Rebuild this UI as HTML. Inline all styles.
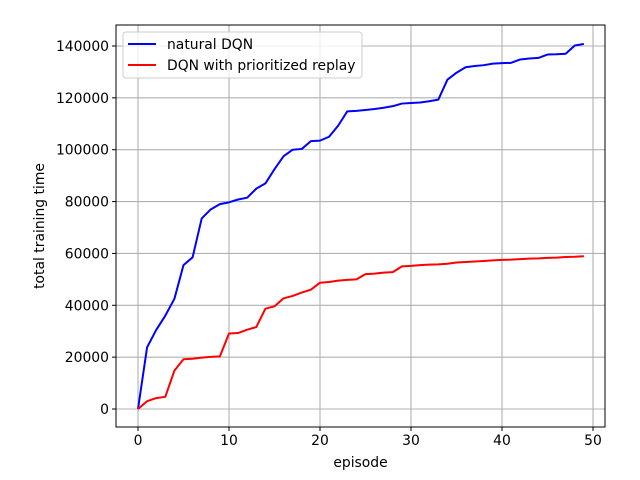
<!DOCTYPE html>
<html><head><meta charset="utf-8"><style>
body{margin:0;background:#fff}
svg{display:block;font-family:"DejaVu Sans","Liberation Sans",sans-serif}
</style></head><body>
<svg id="chart" width="640" height="480" viewBox="0 0 640 480" xmlns="http://www.w3.org/2000/svg">
<rect width="640" height="480" fill="#fff"/>
<g id="grid"></g>
<g id="ticks"></g>
<g id="series"></g>
<rect x="116" y="25" width="489" height="402" fill="none" stroke="#000" stroke-width="1"/>
<text x="360.5" y="467" font-size="13.9" text-anchor="middle">episode</text>
<text transform="translate(44,226) rotate(-90)" font-size="13.9" text-anchor="middle">total training time</text>
<g>
<rect x="123" y="32" width="239" height="46" rx="3" fill="#fff" fill-opacity="0.8" stroke="#ccc"/>
<line x1="128" y1="44" x2="156" y2="44" stroke="#0000ff" stroke-width="2"/>
<text x="167" y="49" font-size="13.9">natural DQN</text>
<line x1="128" y1="65" x2="156" y2="65" stroke="#ff0000" stroke-width="2"/>
<text x="167" y="70" font-size="13.9">DQN with prioritized replay</text>
</g>
</svg>
<script>
const xTicks=[0,10,20,30,40,50];
const yTicks=[0,20000,40000,60000,80000,100000,120000,140000];
const naturalDQN=[0,23800,30500,36000,42500,55500,58500,73500,77000,79000,79700,80800,81500,85000,87000,92500,97500,100000,100300,103300,103500,105000,109300,114800,115000,115300,115700,116200,116800,117800,118000,118200,118700,119300,127000,129700,131800,132300,132600,133200,133400,133500,134800,135200,135400,136700,136800,137000,140200,140800];
const prioritizedDQN=[0,3000,4200,4700,14800,19200,19400,19800,20100,20300,29100,29300,30600,31600,38700,39600,42700,43600,44900,46000,48700,49000,49500,49800,50000,52000,52200,52600,52800,55000,55200,55500,55700,55800,56000,56500,56700,56900,57100,57300,57500,57600,57800,58000,58100,58300,58400,58600,58700,58900];
const NS="http://www.w3.org/2000/svg";
const X=v=>138+v*(593-138)/50;
const Y=v=>409-v*(409-46)/140000;
function mk(t,a,p){const e=document.createElementNS(NS,t);for(const k in a)e.setAttribute(k,a[k]);p.appendChild(e);return e;}
const grid=document.getElementById('grid'),ticks=document.getElementById('ticks'),series=document.getElementById('series');
xTicks.forEach(v=>{
 const g=mk('line',{x1:X(v),x2:X(v),y1:25,y2:427,stroke:'#b0b0b0','stroke-width':1.1},grid);
 
 
 mk('line',{x1:X(v),x2:X(v),y1:427,y2:431,stroke:'#000'},ticks);
 const t=mk('text',{x:X(v),y:445,'font-size':13.9,'text-anchor':'middle'},ticks);
 
 
 t.textContent=v;
});
yTicks.forEach(v=>{
 const g=mk('line',{x1:116,x2:605,y1:Y(v),y2:Y(v),stroke:'#b0b0b0','stroke-width':1.1},grid);
 
 
 mk('line',{x1:112,x2:116,y1:Y(v),y2:Y(v),stroke:'#000'},ticks);
 const t=mk('text',{x:109,y:Y(v)+5,'font-size':13.9,'text-anchor':'end'},ticks);
 
 
 t.textContent=v;
});
function line(data,color,name){
 const p=mk('polyline',{points:data.map((v,i)=>X(i)+','+Y(v)).join(' '),fill:'none',stroke:color,'stroke-width':2,'stroke-linejoin':'round'},series);
 
 
}
line(naturalDQN,'#0000ff','natural-dqn-line');
line(prioritizedDQN,'#ff0000','prioritized-replay-line');
</script>
</body></html>
